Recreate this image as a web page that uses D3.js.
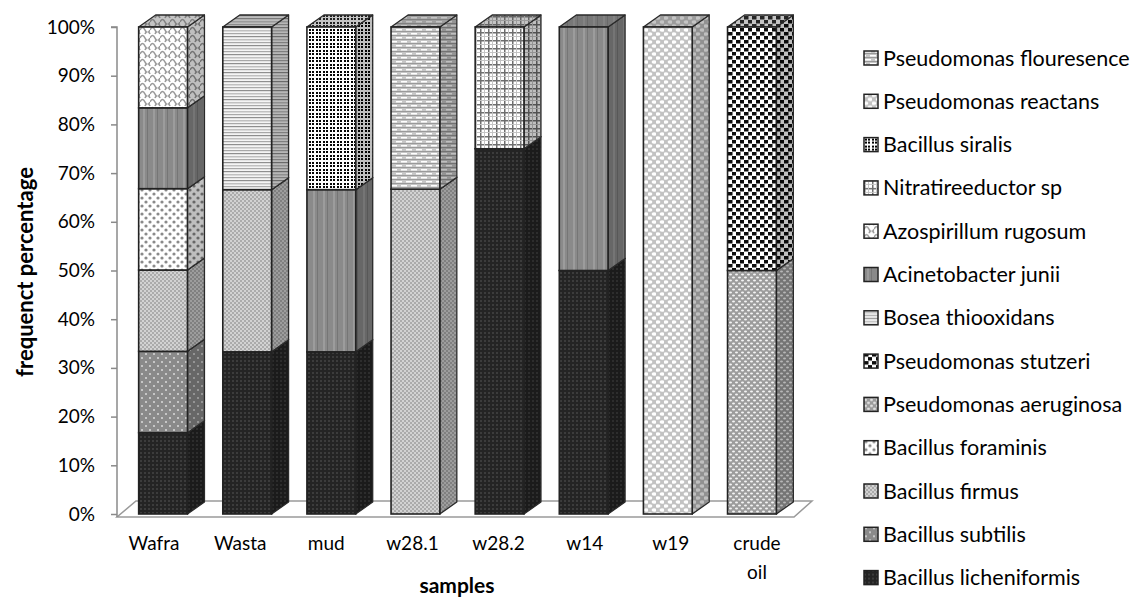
<!DOCTYPE html>
<html>
<head>
<meta charset="utf-8">
<script src="https://cdn.jsdelivr.net/npm/d3@7"></script>
<style>
  body { margin: 0; background: #fff; }
  text { font-family: Lato, "Open Sans", sans-serif; fill: #000; }
</style>
</head>
<body>
<div id="chart"></div>
<script>
const width = 1146, height = 602;

// samples on the x axis
const samples = ["Wafra", "Wasta", "mud", "w28.1", "w28.2", "w14", "w19", "crude oil"];

// species, in stacking order (bottom first)
const species = [
  "Bacillus licheniformis", "Bacillus subtilis", "Bacillus firmus", "Bacillus foraminis",
  "Pseudomonas aeruginosa", "Pseudomonas stutzeri", "Bosea thiooxidans", "Acinetobacter junii",
  "Azospirillum rugosum", "Nitratireeductor sp", "Bacillus siralis", "Pseudomonas reactans",
  "Pseudomonas flouresence"
];

// percentages per sample for each species
const licheniformis = [16.7, 33.3, 33.3, 0, 75, 50, 0, 0];
const subtilis      = [16.7, 0, 0, 0, 0, 0, 0, 0];
const firmus        = [16.7, 33.3, 0, 66.7, 0, 0, 0, 0];
const foraminis     = [16.7, 0, 0, 0, 0, 0, 0, 0];
const aeruginosa    = [0, 0, 0, 0, 0, 0, 0, 50];
const stutzeri      = [0, 0, 0, 0, 0, 0, 0, 50];
const bosea         = [0, 33.4, 0, 0, 0, 0, 0, 0];
const acinetobacter = [16.6, 0, 33.3, 0, 0, 50, 0, 0];
const azospirillum  = [16.6, 0, 0, 0, 0, 0, 0, 0];
const nitratireed   = [0, 0, 0, 0, 25, 0, 0, 0];
const siralis       = [0, 0, 33.4, 0, 0, 0, 0, 0];
const reactans      = [0, 0, 0, 0, 0, 0, 100, 0];
const flouresence   = [0, 0, 0, 33.3, 0, 0, 0, 0];

const series = [licheniformis, subtilis, firmus, foraminis, aeruginosa, stutzeri, bosea,
  acinetobacter, azospirillum, nitratireed, siralis, reactans, flouresence];

const yTicks = [0, 10, 20, 30, 40, 50, 60, 70, 80, 90, 100];

// rows for d3.stack
const rows = samples.map((s, i) => {
  const r = { sample: s };
  species.forEach((sp, k) => r[sp] = series[k][i]);
  return r;
});

const svg = d3.select("#chart").append("svg")
  .attr("width", width).attr("height", height);

const defs = svg.append("defs");

// pattern fills, one per species
function pat(id, w, h, bg, draw) {
  const p = defs.append("pattern").attr("id", id)
    .attr("patternUnits", "userSpaceOnUse").attr("width", w).attr("height", h);
  p.append("rect").attr("width", w).attr("height", h).attr("fill", bg);
  draw(p);
}
const rect = (p, x, y, w, h, c) => p.append("rect").attr("x", x).attr("y", y).attr("width", w).attr("height", h).attr("fill", c);
const dot = (p, x, y, rx, ry, c) => p.append("ellipse").attr("cx", x).attr("cy", y).attr("rx", rx).attr("ry", ry).attr("fill", c);

pat("p0", 4, 4, "#242424", p => { rect(p, 0, 0, 2, 2, "#3c3c3c"); });
pat("p1", 8, 8, "#8a8a8a", p => { rect(p, 1, 1, 2, 2, "#c6c6c6"); rect(p, 5, 5, 2, 2, "#c6c6c6"); });
pat("p2", 4, 4, "#d2d2d2", p => { rect(p, 0, 0, 2, 2, "#ababab"); rect(p, 2, 2, 2, 2, "#ababab"); });
pat("p3", 8, 8, "#ffffff", p => { dot(p, 2, 2, 1.6, 1.6, "#8a8a8a"); dot(p, 6, 6, 1.6, 1.6, "#8a8a8a"); });
pat("p4", 6, 6, "#9c9c9c", p => { dot(p, 1.5, 1.5, 1.5, 1.1, "#f4f4f4"); dot(p, 4.5, 4.5, 1.5, 1.1, "#f4f4f4"); });
pat("p5", 8, 8, "#ffffff", p => { rect(p, 0, 0, 4.5, 3.5, "#0c0c0c"); rect(p, 4, 4, 4.5, 3.5, "#0c0c0c"); });
pat("p6", 10, 9, "#f4f4f4", p => { rect(p, 0, 0, 10, 1.2, "#8e8e8e"); rect(p, 0, 3, 10, 1.5, "#c0c0c0"); rect(p, 0, 6, 10, 1.2, "#a8a8a8"); });
pat("p7", 10, 4, "#8a8a8a", p => { rect(p, 3, 0, 2, 4, "#9c9c9c"); rect(p, 7, 0, 1, 4, "#767676"); });
pat("p8", 10, 8, "#ffffff", p => {
  p.append("path").attr("d", "M0,6 Q2.5,1 5,6 T10,6 M-5,2 Q-2.5,-3 0,2 M5,2 Q7.5,-3 10,2")
    .attr("fill", "none").attr("stroke", "#9a9a9a").attr("stroke-width", 1.6);
});
pat("p9", 8, 8, "#ffffff", p => { rect(p, 0, 0, 8, 1.5, "#6e6e6e"); rect(p, 0, 0, 1.5, 8, "#6e6e6e"); rect(p, 4, 0, 1, 8, "#c4c4c4"); rect(p, 0, 4, 8, 1, "#c4c4c4"); });
pat("p10", 7, 7, "#ffffff", p => { rect(p, 1, 1, 5, 5, "#050505"); rect(p, 0, 3, 7, 1, "#ffffff"); rect(p, 3, 0, 1, 7, "#ffffff"); });
pat("p11", 8, 8, "#c2c2c2", p => { dot(p, 2, 2, 2.4, 1.8, "#ffffff"); dot(p, 6, 6, 2.4, 1.8, "#ffffff"); });
pat("p12", 10, 8, "#c6c6c6", p => { rect(p, 1, 1, 6, 1.5, "#ffffff"); rect(p, 6, 5, 6, 1.5, "#ffffff"); rect(p, -4, 5, 6, 1.5, "#ffffff"); rect(p, 0, 3, 10, 0.8, "#8e8e8e"); rect(p, 0, 7, 10, 0.8, "#8e8e8e"); });

const fillOf = d3.scaleOrdinal().domain(species).range(species.map((s, k) => `url(#p${k})`));

// scales
const x = d3.scaleBand().domain(samples).range([121, 794]).paddingInner(0.42).paddingOuter(0.21);
const y = d3.scaleLinear().domain([0, 100]).range([514, 27]);
const xl = d3.scalePoint().domain(samples).range([154, 757]);
const bw = x.bandwidth();
const dx = 17, dy = -12;

// floor
const fy = y(0) + 3;
svg.append("path")
  .attr("d", `M117,${fy} L${x.range()[1]},${fy} L${x.range()[1] + 18},${fy - 16} L136,${fy - 16} Z`)
  .attr("fill", "#fff").attr("stroke", "#9a9a9a").attr("stroke-width", 1.5);

// y axis
const yAxis = svg.append("g").attr("transform", "translate(117,0)")
  .call(d3.axisLeft(y).tickValues(yTicks).tickSize(6).tickPadding(16).tickFormat(d => d + "%"));
yAxis.select(".domain").attr("stroke", "#8a8a8a").attr("stroke-width", 1.5).attr("d", `M-6,${y(100)}H0V${fy}`);
yAxis.selectAll(".tick line").attr("stroke", "#8a8a8a").attr("stroke-width", 1.5);
yAxis.selectAll(".tick text").style("font-size", "19px").style("font-family", "Lato").attr("fill", "#000");

// stacked 3D bars
const stacked = d3.stack().keys(species)(rows);
const segs = [];
samples.forEach((s, i) => {
  stacked.forEach(layer => {
    const d = layer[i];
    if (d[1] - d[0] > 0) segs.push({ sample: s, key: layer.key, y0: d[0], y1: d[1] });
  });
});

const bars = svg.append("g");
segs.forEach(sg => {
  const x0 = x(sg.sample), x1 = x0 + bw;
  const yb = y(sg.y0), yt = y(sg.y1);
  const g = bars.append("g");
  const side = `M${x1},${yb} L${x1 + dx},${yb + dy} L${x1 + dx},${yt + dy} L${x1},${yt} Z`;
  const top = `M${x0},${yt} L${x1},${yt} L${x1 + dx},${yt + dy} L${x0 + dx},${yt + dy} Z`;
  g.append("path").attr("d", side).attr("fill", fillOf(sg.key));
  g.append("path").attr("d", side).attr("fill", "#000").attr("fill-opacity", 0.25)
    .attr("stroke", "#2a2a2a").attr("stroke-width", 1.3).attr("stroke-linejoin", "round");
  g.append("path").attr("d", top).attr("fill", fillOf(sg.key));
  g.append("path").attr("d", top).attr("fill", "#555").attr("fill-opacity", 0.35)
    .attr("stroke", "#2a2a2a").attr("stroke-width", 1.3).attr("stroke-linejoin", "round");
  g.append("rect").attr("x", x0).attr("y", yt).attr("width", bw).attr("height", yb - yt)
    .attr("fill", fillOf(sg.key)).attr("stroke", "#222").attr("stroke-width", 1.6);
});

// x labels
const xlab = svg.append("g").selectAll("text").data(samples).join("text")
  .attr("x", d => xl(d)).attr("y", 550)
  .attr("text-anchor", "middle").style("font-size", "19px");
xlab.each(function (d) {
  const parts = d.split(" ");
  d3.select(this).selectAll("tspan").data(parts).join("tspan")
    .attr("x", xl(d)).attr("dy", (p, j) => j === 0 ? 0 : 29).text(p => p);
});

// axis titles
svg.append("text").attr("x", 457).attr("y", 593).attr("text-anchor", "middle")
  .style("font-size", "21px").style("font-weight", "bold").text("samples");
svg.append("text").attr("transform", "translate(33,272) rotate(-90)").attr("text-anchor", "middle")
  .style("font-size", "22px").style("font-weight", "bold").text("frequenct percentage");

// legend, top entry is the last stacked series
const legend = svg.append("g").selectAll("g").data(species.slice().reverse()).join("g")
  .attr("transform", (d, i) => `translate(864,${58 + i * 43.3})`);
legend.append("rect").attr("x", 0).attr("y", -7).attr("width", 14).attr("height", 14)
  .attr("fill", d => fillOf(d)).attr("stroke", "#222").attr("stroke-width", 1.5);
legend.append("text").attr("x", 19).attr("y", 0).attr("dy", "0.35em")
  .style("font-size", "21.5px").text(d => d);
</script>
</body>
</html>
